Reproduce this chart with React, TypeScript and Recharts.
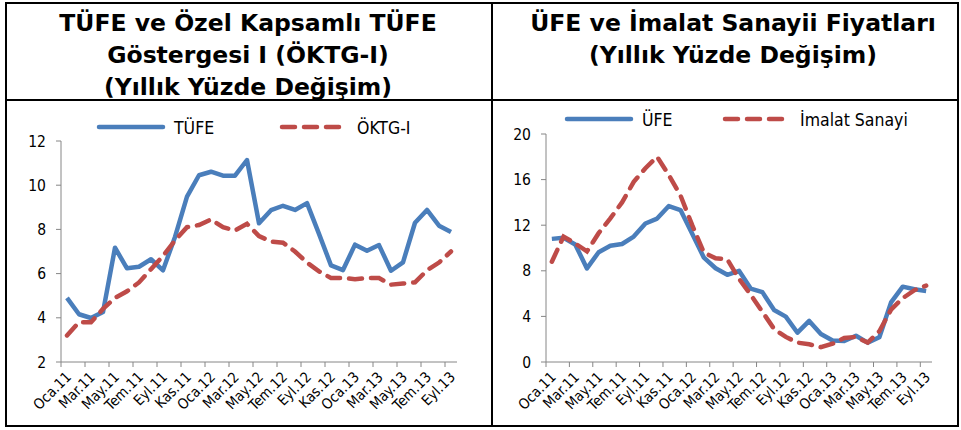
import { LineChart, Line, XAxis, YAxis } from "recharts";

const MONTHS = [
  "Oca.11", "Şub.11", "Mar.11", "Nis.11", "May.11", "Haz.11", "Tem.11", "Ağu.11", "Eyl.11", "Eki.11", "Kas.11", "Ara.11",
  "Oca.12", "Şub.12", "Mar.12", "Nis.12", "May.12", "Haz.12", "Tem.12", "Ağu.12", "Eyl.12", "Eki.12", "Kas.12", "Ara.12",
  "Oca.13", "Şub.13", "Mar.13", "Nis.13", "May.13", "Haz.13", "Tem.13", "Ağu.13", "Eyl.13",
];

const TUFE = [
  4.9, 4.16, 3.99, 4.26, 7.17, 6.24, 6.31, 6.65, 6.15, 7.66, 9.48, 10.45,
  10.61, 10.43, 10.43, 11.14, 8.28, 8.87, 9.07, 8.88, 9.19, 7.8, 6.37, 6.16,
  7.31, 7.03, 7.29, 6.13, 6.51, 8.3, 8.88, 8.17, 7.88,
];
const OKTG = [
  3.2, 3.8, 3.8, 4.4, 4.9, 5.2, 5.6, 6.2, 6.8, 7.5, 8.1, 8.2,
  8.45, 8.1, 7.95, 8.25, 7.7, 7.45, 7.4, 7.0, 6.5, 6.1, 5.8, 5.8,
  5.75, 5.8, 5.8, 5.5, 5.55, 5.6, 6.15, 6.5, 7.0,
];
const UFE = [
  10.8, 10.89, 10.31, 8.21, 9.63, 10.19, 10.35, 11.0, 12.15, 12.58, 13.68, 13.33,
  11.24, 9.15, 8.22, 7.65, 8.0, 6.44, 6.13, 4.56, 3.98, 2.57, 3.6, 2.45,
  1.88, 1.84, 2.3, 1.7, 2.17, 5.23, 6.61, 6.38, 6.23,
];
const IMALAT = [
  8.8, 11.0, 10.4, 9.7, 11.3, 12.6, 14.0, 15.8, 17.0, 18.0, 16.4, 14.6,
  12.0, 9.6, 9.1, 9.0, 7.3, 5.9, 4.4, 2.9, 2.2, 1.7, 1.55, 1.3,
  1.6, 2.1, 2.2, 1.7, 2.7, 4.6, 5.6, 6.3, 6.7,
];

const LEFT_TICKS = [2, 4, 6, 8, 10, 12];
const RIGHT_TICKS = [0, 4, 8, 12, 16, 20];

const leftData = MONTHS.map((m, i) => ({ month: m, tufe: TUFE[i], oktg: OKTG[i] }));
const rightData = MONTHS.map((m, i) => ({ month: m, ufe: UFE[i], imalat: IMALAT[i] }));

const BLUE = "#4A7EBB";
const RED = "#BE4B48";
const GREY = "#868686";
const FONT = "'DejaVu Sans Condensed', 'DejaVu Sans', sans-serif";
const TITLE_FONT = "'DejaVu Sans', sans-serif";
const DASH = "13 9";

function MonthTick(props: any) {
  const { x, y, payload, half } = props;
  const tx = x + 5;
  const ty = y + 16;
  return (
    <g>
      <line x1={x - half} y1={y} x2={x - half} y2={y + 5} stroke={GREY} strokeWidth={1} />
      <text
        x={tx}
        y={ty}
        textAnchor="end"
        fontSize={14.5}
        fontFamily={FONT}
        fill="#000"
        transform={`rotate(-45 ${tx} ${ty})`}
      >
        {payload.value}
      </text>
    </g>
  );
}

function LegendItem({ x, y, dashed, color, label }: any) {
  return (
    <g>
      <line
        x1={x}
        y1={y}
        x2={x + 64}
        y2={y}
        stroke={color}
        strokeWidth={4.5}
        strokeLinecap="round"
        strokeDasharray={dashed ? DASH : undefined}
      />
      <text x={x + 75} y={y + 6.5} fontSize={17.5} fontFamily={FONT} fill="#000">
        {label}
      </text>
    </g>
  );
}

function Panel({ data, keys, labels, domain, ticks, width, yWidth, right, top, pad }: any) {
  return (
    <LineChart
      width={width}
      height={320}
      data={data}
      margin={{ top, right, bottom: 0, left: 0 }}
    >
      <XAxis
        dataKey="month"
        interval={1}
        padding={{ left: pad, right: pad }}
        tickSize={0}
        tickMargin={0}
        height={62}
        axisLine={{ stroke: GREY }}
        tick={(p: any) => <MonthTick {...p} half={pad} />}
      />
      <YAxis
        domain={domain}
        ticks={ticks}
        width={yWidth}
        tickSize={5}
        tickMargin={10}
        axisLine={{ stroke: GREY }}
        tickLine={{ stroke: GREY }}
        tick={{ fontSize: 15.5, fontFamily: FONT, fill: "#000" }}
      />
      <Line
        type="linear"
        dataKey={keys[0]}
        name={labels[0]}
        stroke={BLUE}
        strokeWidth={4.5}
        dot={false}
        strokeLinejoin="round"
        isAnimationActive={false}
      />
      <Line
        type="linear"
        dataKey={keys[1]}
        name={labels[1]}
        stroke={RED}
        strokeWidth={4.5}
        strokeDasharray={DASH}
        strokeLinecap="round"
        dot={false}
        isAnimationActive={false}
      />
    </LineChart>
  );
}

const border = (left: number, top: number, width: number, height: number) => (
  <div style={{ position: "absolute", left, top, width, height, background: "#000" }} />
);

export default function App() {
  const titleStyle: any = {
    position: "absolute",
    top: 7,
    textAlign: "center",
    fontFamily: TITLE_FONT,
    fontWeight: "bold",
    fontSize: 23.5,
    lineHeight: "32px",
    color: "#000",
    whiteSpace: "nowrap",
  };
  return (
    <div style={{ position: "absolute", left: 0, top: 0, width: 961, height: 430, background: "#fff" }}>
      {border(5, 2, 954, 2)}
      {border(5, 425, 954, 2)}
      {border(5, 2, 2, 425)}
      {border(491, 2, 2, 425)}
      {border(957, 2, 2, 425)}
      {border(5, 99, 954, 2)}

      <div style={{ ...titleStyle, left: 6, width: 484 }}>
        TÜFE ve Özel Kapsamlı TÜFE
        <br />
        Göstergesi I (ÖKTG-I)
        <br />
        (Yıllık Yüzde Değişim)
      </div>
      <div style={{ ...titleStyle, left: 505, width: 456 }}>
        ÜFE ve İmalat Sanayii Fiyatları
        <br />
        (Yıllık Yüzde Değişim)
      </div>

      <div style={{ position: "absolute", left: 8, top: 104 }}>
        <Panel
          data={leftData}
          keys={["tufe", "oktg"]}
          labels={["TÜFE", "ÖKTG-I"]}
          domain={[2, 12]}
          ticks={LEFT_TICKS}
          width={470}
          yWidth={53}
          right={21}
          top={37}
          pad={6}
        />
        <svg width={470} height={40} style={{ position: "absolute", left: 0, top: 3 }}>
          <LegendItem x={91} y={20} color={BLUE} label="TÜFE" />
          <LegendItem x={274} y={20} color={RED} dashed label="ÖKTG-I" />
        </svg>
      </div>

      <div style={{ position: "absolute", left: 500, top: 104 }}>
        <Panel
          data={rightData}
          keys={["ufe", "imalat"]}
          labels={["ÜFE", "İmalat Sanayi"]}
          domain={[0, 20]}
          ticks={RIGHT_TICKS}
          width={450}
          yWidth={46}
          right={18}
          top={30}
          pad={5.85}
        />
        <svg width={450} height={40} style={{ position: "absolute", left: 0, top: -5 }}>
          <LegendItem x={67} y={20} color={BLUE} label="ÜFE" />
          <LegendItem x={225} y={20} color={RED} dashed label="İmalat Sanayi" />
        </svg>
      </div>
    </div>
  );
}
